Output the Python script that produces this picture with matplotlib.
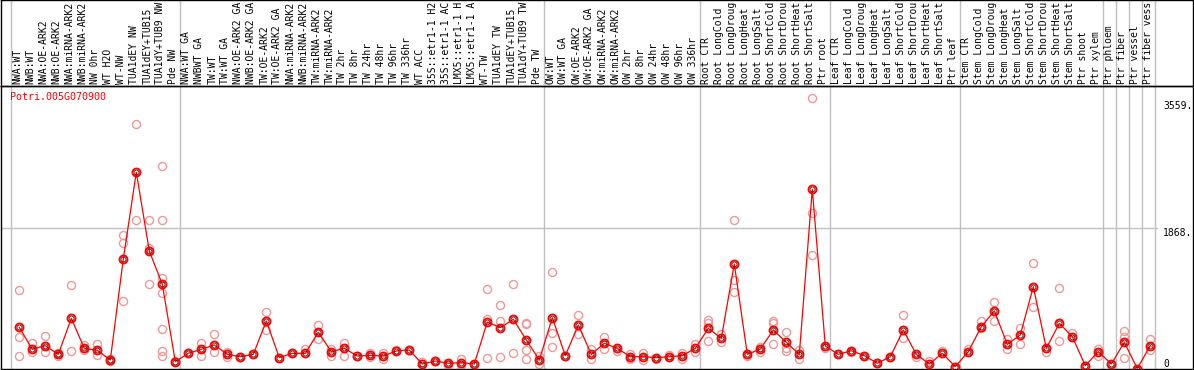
import matplotlib
matplotlib.use("Agg")
import matplotlib.pyplot as plt

gene = "Potri.005G070900"

labels = [
    "NWA:WT", "NWB:WT", "NWA:OE-ARK2", "NWB:OE-ARK2", "NWA:miRNA-ARK2", "NWB:miRNA-ARK2",
    "NW 0hr", "WT H2O", "WT-NW", "TUA1dEY NW", "TUA1dEY+TUB15", "TUA1dY+TUB9 NW", "Pde NW",
    "NWA:WT GA", "NWBWT GA", "TW:WT", "TW:WT GA", "NWA:OE-ARK2 GA", "NWB:OE-ARK2 GA",
    "TW:OE-ARK2", "TW:OE-ARK2 GA", "NWA:miRNA-ARK2", "NWB:miRNA-ARK2", "TW:miRNA-ARK2",
    "TW:miRNA-ARK2", "TW 2hr", "TW 8hr", "TW 24hr", "TW 48hr", "TW 96hr", "TW 336hr",
    "WT ACC", "35S::etr1-1 H2", "35S::etr1-1 AC", "LMX5::etr1-1 H", "LMX5::etr1-1 A",
    "WT-TW", "TUA1dEY TW", "TUA1dEY+TUB15", "TUA1dY+TUB9 TW", "Pde TW",
    "OW:WT", "OW:WT GA", "OW:OE-ARK2", "OW:OE-ARK2 GA", "OW:miRNA-ARK2", "OW:miRNA-ARK2",
    "OW 2hr", "OW 8hr", "OW 24hr", "OW 48hr", "OW 96hr", "OW 336hr",
    "Root CTR", "Root LongCold", "Root LongDroug", "Root LongHeat", "Root LongSalt",
    "Root ShortCold", "Root ShortDrou", "Root ShortHeat", "Root ShortSalt", "Ptr root",
    "Leaf CTR", "Leaf LongCold", "Leaf LongDroug", "Leaf LongHeat", "Leaf LongSalt",
    "Leaf ShortCold", "Leaf ShortDrou", "Leaf ShortHeat", "Leaf ShortSalt", "Ptr leaf",
    "Stem CTR", "Stem LongCold", "Stem LongDroug", "Stem LongHeat", "Stem LongSalt",
    "Stem ShortCold", "Stem ShortDrou", "Stem ShortHeat", "Stem ShortSalt",
    "Ptr shoot", "Ptr xylem", "Ptr phloem", "Ptr fiber", "Ptr vessel", "Ptr fiber vess",
]

means = [
    547, 255, 304, 188, 667, 268, 242, 113, 1456, 2608, 1562, 1119, 91,
    202, 255, 313, 188, 157, 188, 632, 144, 202, 202, 481, 224, 268, 166, 175, 166,
    233, 246, 60, 100, 69, 78, 60, 618, 543, 654, 379, 113,
    676, 171, 578, 188, 335, 268, 157, 157, 144, 157, 171, 268,
    534, 401, 1389, 188, 259, 512, 348, 188, 2382, 299,
    188, 237, 171, 69, 157, 512, 188, 60, 202, 25,
    224, 556, 765, 321, 446, 1088, 268, 601, 423, 38, 224, 60, 348, 0, 304,
]

reps = [
    [1044, 414, 171], [335, 215], [437, 215], [171, 202], [1110, 233], [313, 242],
    [321, 180], [122, 104], [1775, 1673, 898], [3247, 1975], [1975, 1598, 1119],
    [2693, 1975, 1199, 1000, 525, 233, 171], [104],
    [202], [335, 171], [455, 224], [224, 157], [157], [188], [747, 512], [144], [202],
    [255], [578, 388], [171, 255], [335, 171], [166], [202, 157], [202, 131], [246],
    [246], [91], [100], [47], [122, 47], [60], [1053, 663, 135], [844, 632, 149],
    [1119, 202], [610, 587, 246, 122], [166, 60],
    [1288, 477, 281], [171], [707, 455], [255, 131], [414, 255], [233], [188, 131],
    [202, 113], [122], [180], [211, 122], [321, 224],
    [645, 610, 370], [455, 357], [1975, 1177, 1017], [171], [290, 220], [632, 601, 321],
    [481, 268, 233], [246, 122], [3597, 2063, 1509], [268],
    [188], [215], [171], [69], [157], [711, 401], [157], [100], [233], [25],
    [255], [632, 534], [884, 632], [388, 259], [543, 321], [1398, 813], [224],
    [1066, 370], [468], [38], [259, 171], [60], [499, 414, 135], [0], [388, 246],
]

group_ends = [0, 13, 41, 53, 63, 73, 84, 85, 86, 87, 88]
y_ticks = [3559, 1868, 0]
grid_y = 1868

W, H = 1194, 370
fig = plt.figure(figsize=(W / 100, H / 100), dpi=100)
mono = "DejaVu Sans Mono"
grey = "#c0c0c0"

x = list(range(1, len(means) + 1))
xlim = (-0.408, 91.285)

# plot area
ax = fig.add_axes([1 / W, 1 / H, 1192 / W, 283 / H])
ax.set_xlim(*xlim)
ax.set_ylim(-6.6, 3756)
ax.set_xticks([])
ax.set_yticks([])
for s in ax.spines.values():
    s.set_color("black")
    s.set_linewidth(1.0)

for e in group_ends:
    ax.axvline(e + 0.37, color=grey, lw=1.0, zorder=0)
ax.plot([xlim[0], 88.5], [grid_y, grid_y], color=grey, lw=1.0, zorder=0)

for xi, rv in zip(x, reps):
    ax.plot([xi] * len(rv), rv, "o", ms=5.8, mfc="none", mec="#f09898",
            mew=1.0, zorder=2, clip_on=False)
ax.plot(x, means, "-", color="red", lw=0.9, zorder=3)
ax.plot(x, means, "o", ms=5.8, mfc="none", mec="red", mew=1.3, zorder=4,
        clip_on=False)
ax.plot(x, means, "o", ms=3.6, mfc="none", mec="#600000", mew=0.6, zorder=5,
        clip_on=False)

for v in y_ticks:
    ax.text(88.98, v, f"{v}." if v else "0", fontsize=7, family=mono,
            va="top" if v else "bottom", ha="left", color="black")

fig.text(10 / W, 1 - 97 / H, gene, color="red", fontsize=7.2, family=mono,
         va="center", ha="left")

# label strip
lab = fig.add_axes([1 / W, 284 / H, 1192 / W, 86 / H])
lab.set_xlim(*xlim)
lab.set_ylim(86, 0)
lab.set_xticks([])
lab.set_yticks([])
lab.patch.set_alpha(0)
for s in lab.spines.values():
    s.set_color("black")
    s.set_linewidth(1.0)
for e in group_ends:
    lab.axvline(e + 0.37, color=grey, lw=1.0, zorder=0)
for xi, t in zip(x, labels):
    lab.text(xi - 0.15, 84.5, t, rotation=90, fontsize=7, family=mono,
             va="bottom", ha="center", clip_on=True)

fig.savefig("out.png", dpi=100)
